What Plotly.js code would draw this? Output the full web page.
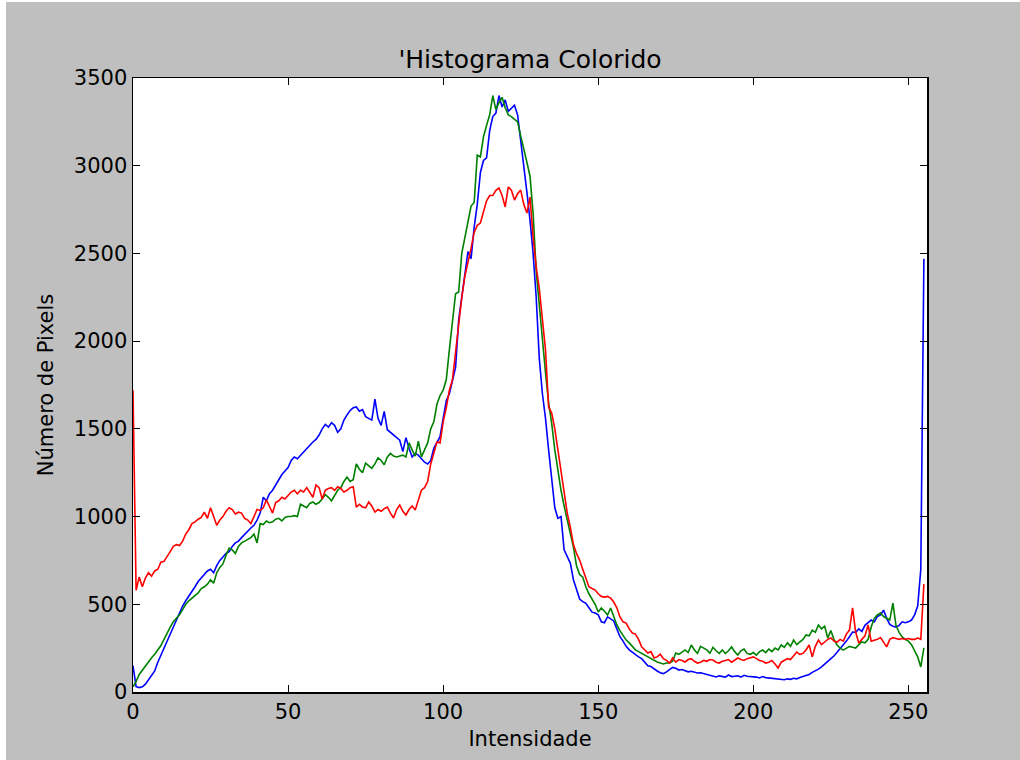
<!DOCTYPE html>
<html>
<head>
<meta charset="utf-8">
<script src="https://cdn.plot.ly/plotly-3.0.1.min.js"></script>
<style>
  html, body { margin: 0; padding: 0; background: #ffffff; width: 1020px; height: 760px; overflow: hidden; }
  #chart { position: absolute; left: 6px; top: 2px; width: 1014px; height: 758px; }
</style>
</head>
<body>
<div id="chart"></div>
<script>
// Histogram bins (pixel intensity 0..255)
const intensities = Array.from({length: 256}, (_, i) => i);

const blueCounts = [
  150, 30, 25, 30, 45, 70, 95, 120, 170, 210,
  250, 290, 340, 380, 420, 450, 490, 520, 545, 575,
  600, 630, 650, 670, 690, 700, 680, 720, 750, 770,
  790, 800, 830, 850, 860, 880, 900, 920, 935, 950,
  980, 1020, 1110, 1090, 1130, 1150, 1180, 1210, 1240, 1260,
  1280, 1320, 1340, 1330, 1350, 1370, 1390, 1410, 1425, 1440,
  1465, 1500, 1525, 1510, 1535, 1520, 1480, 1500, 1550, 1580,
  1605, 1620, 1625, 1600, 1610, 1570, 1560, 1550, 1670, 1560,
  1520, 1600, 1495, 1480, 1460, 1445, 1435, 1370, 1450, 1390,
  1340, 1360, 1350, 1330, 1310, 1300, 1320, 1390, 1420, 1455,
  1560, 1660, 1700, 1780, 1850, 2120, 2250, 2400, 2510, 2470,
  2650, 2780, 2960, 3030, 3045, 3200, 3280, 3300, 3400, 3335,
  3375, 3310, 3330, 3345, 3290, 3150, 3010, 2850, 2690, 2500,
  2250, 1900, 1700, 1560, 1380, 1200, 1050, 990, 1000, 810,
  770, 735, 640, 590, 530, 515, 505, 480, 455, 450,
  440, 400, 395, 428, 415, 405, 360, 315, 290, 260,
  240, 225, 215, 200, 190, 170, 150, 145, 130, 120,
  110, 105, 115, 130, 140, 135, 125, 128, 120, 115,
  118, 112, 108, 110, 105, 100, 95, 90, 86, 92,
  90, 85, 97, 88, 90, 92, 85, 95, 90, 88,
  90, 85, 80, 88, 82, 80, 75, 72, 70, 68,
  70, 75, 72, 78, 75, 82, 88, 95, 100, 112,
  120, 130, 143, 160, 175, 190, 205, 225, 245, 268,
  290, 315, 342, 340, 360, 345, 380, 395, 410, 400,
  430, 440, 467, 420, 385, 375, 370, 380, 400, 395,
  400, 410, 440, 490, 700, 2470
];

const greenCounts = [
  30, 60, 100, 125, 150, 170, 195, 215, 240, 265,
  300, 340, 370, 400, 420, 440, 470, 500, 520, 535,
  550, 565, 590, 600, 615, 640, 620, 680, 710, 730,
  780, 820, 810, 790, 830, 850, 860, 870, 880, 900,
  850, 960, 955, 975, 965, 970, 985, 990, 975, 995,
  1000, 1000, 1005, 1000, 1070, 1060, 1050, 1075, 1083, 1070,
  1080, 1100, 1125, 1110, 1090, 1120, 1150, 1165, 1200, 1225,
  1200, 1210, 1300, 1270, 1250, 1305, 1290, 1275, 1300, 1335,
  1320, 1295, 1340, 1360, 1345, 1340, 1345, 1350, 1340, 1420,
  1380, 1345, 1430, 1340, 1380, 1420, 1500, 1540, 1640, 1690,
  1720, 1780, 1950, 2120, 2270, 2280, 2500, 2590, 2690, 2770,
  2790, 3060, 3050, 3165, 3230, 3290, 3400, 3320, 3360, 3390,
  3330, 3290, 3280, 3265, 3250, 3170, 3100, 3020, 2940, 2730,
  2400, 2200, 2046, 1820, 1650, 1530, 1380, 1250, 1150, 1060,
  980, 900, 826, 720, 670, 655, 600, 560, 530, 500,
  456, 479, 460, 439, 479, 430, 382, 350, 320, 296,
  280, 260, 240, 230, 220, 211, 200, 194, 180, 171,
  165, 160, 165, 165, 175, 222, 215, 230, 240, 225,
  268, 240, 220, 260, 251, 240, 222, 255, 235, 220,
  240, 220, 235, 257, 230, 211, 235, 245, 220, 215,
  225, 210, 230, 239, 225, 245, 230, 250, 240, 268,
  255, 280, 260, 296, 270, 285, 300, 325, 320, 353,
  340, 382, 360, 375, 308, 350, 300, 268, 250, 239,
  250, 260, 255, 250, 270, 285, 280, 300, 370, 420,
  439, 450, 430, 420, 410, 507, 380, 340, 314, 300,
  290, 270, 239, 200, 143, 251
];

const redCounts = [
  1720, 580, 655, 600, 650, 680, 660, 690, 700, 740,
  745, 770, 800, 830, 840, 835, 860, 900, 925, 960,
  970, 985, 995, 1025, 990, 1050, 1000, 950, 980, 1000,
  1030, 1050, 1040, 1015, 1025, 1020, 990, 980, 960, 1000,
  1040, 1035, 1050, 1095, 1060, 1020, 1080, 1090, 1110, 1100,
  1120, 1140, 1150, 1130, 1150, 1140, 1165, 1140, 1110, 1180,
  1165, 1100, 1150, 1160, 1165, 1150, 1170, 1160, 1140, 1150,
  1165, 1170, 1054, 1070, 1055, 1050, 1083, 1060, 1026, 1040,
  1030, 1045, 1054, 1020, 992, 1040, 1066, 1030, 1009, 1040,
  1060, 1038, 1100, 1150, 1165, 1200, 1300, 1360, 1425, 1420,
  1540, 1620, 1720, 1780, 1950, 2120, 2250, 2370, 2445, 2530,
  2620, 2660, 2673, 2740, 2800, 2830, 2830, 2860, 2873, 2830,
  2765, 2879, 2860, 2804, 2840, 2861, 2780, 2730, 2821, 2593,
  2423, 2300, 2137, 1950, 1625, 1590, 1500, 1380, 1250, 1120,
  1020, 940, 840, 790, 752, 700, 650, 600, 590, 581,
  560, 545, 541, 545, 535, 513, 480, 428, 400, 393,
  360, 336, 330, 300, 257, 240, 222, 230, 194, 200,
  215, 190, 180, 165, 194, 170, 185, 180, 171, 185,
  190, 175, 165, 170, 180, 175, 185, 182, 170, 165,
  175, 180, 185, 170, 180, 194, 185, 180, 190, 195,
  200, 190, 180, 175, 165, 170, 180, 160, 137, 170,
  180, 190, 185, 210, 228, 215, 220, 240, 268, 200,
  260, 296, 270, 285, 300, 308, 290, 285, 300, 290,
  330, 353, 479, 342, 279, 300, 320, 382, 290, 295,
  300, 310, 280, 257, 300, 310, 305, 300, 305, 300,
  305, 300, 300, 308, 300, 615
];

const xTicks = [0, 50, 100, 150, 200, 250];
const yTicks = [0, 500, 1000, 1500, 2000, 2500, 3000, 3500];

const FONT = 'DejaVu Sans, sans-serif';

const traces = [
  { x: intensities, y: blueCounts, color: '#0000ff' },
  { x: intensities, y: greenCounts, color: '#008000' },
  { x: intensities, y: redCounts, color: '#ff0000' }
].map(t => ({
  type: 'scatter', mode: 'lines', x: t.x, y: t.y,
  line: { color: t.color, width: 1.6 },
  hoverinfo: 'skip', showlegend: false
}));

const axisCommon = {
  showgrid: false, zeroline: false,
  showline: true, linecolor: '#000000', linewidth: 1.5, mirror: 'ticks',
  ticks: 'inside', ticklen: 7, tickwidth: 1, tickcolor: '#000000',
  tickfont: { family: FONT, size: 21, color: '#000000' }
};

const layout = {
  width: 1014, height: 758,
  paper_bgcolor: '#bfbfbf', plot_bgcolor: '#ffffff',
  margin: { l: 127, r: 93, t: 76, b: 68 },
  title: {
    text: "'Histograma Colorido",
    font: { family: FONT, size: 25, color: '#000000' },
    xref: 'paper', x: 0.5, xanchor: 'center',
    yref: 'container', y: 0.925, yanchor: 'middle'
  },
  xaxis: Object.assign({}, axisCommon, {
    range: [0, 256], tickvals: xTicks, ticktext: xTicks.map(String),
    title: { text: 'Intensidade', font: { family: FONT, size: 21, color: '#000000' }, standoff: 8 }
  }),
  yaxis: Object.assign({}, axisCommon, {
    range: [0, 3500], tickvals: yTicks, ticktext: yTicks.map(String),
    title: { text: 'Número de Pixels', font: { family: FONT, size: 21, color: '#000000' }, standoff: 14 }
  })
};

Plotly.newPlot('chart', traces, layout, { displayModeBar: false, staticPlot: true });
</script>
</body>
</html>
